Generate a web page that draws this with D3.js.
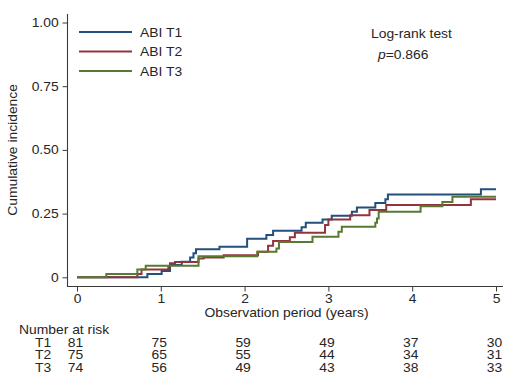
<!DOCTYPE html>
<html>
<head>
<meta charset="utf-8">
<script src="https://cdn.jsdelivr.net/npm/d3@7"></script>
<style>
  body { margin: 0; background: #fff; }
  text { font-family: "Liberation Sans", Arial, Helvetica, sans-serif; fill: #262626; }
</style>
</head>
<body>
<script>
// ---- data ----
const groups = ["T1", "T2", "T3"]
const legendLabels = ["ABI T1", "ABI T2", "ABI T3"]
const colors = ["#234f7d", "#93343c", "#567a30"]

const timesT1 = [0, 0.84, 1.01, 1.11, 1.25, 1.35, 1.39, 1.42, 1.70, 2.03, 2.26, 2.34, 2.68, 2.73, 2.93, 3.04, 3.28, 3.34, 3.56, 3.68, 3.71, 4.82, 5]
const cifT1 = [0, 0.013, 0.025, 0.048, 0.061, 0.078, 0.094, 0.110, 0.120, 0.151, 0.166, 0.183, 0.196, 0.214, 0.227, 0.242, 0.257, 0.274, 0.292, 0.306, 0.325, 0.346, 0.346]

const timesT2 = [0, 0.72, 0.77, 1.09, 1.11, 1.17, 1.45, 1.51, 1.75, 2.16, 2.28, 2.34, 2.54, 2.60, 2.96, 3.00, 3.26, 3.49, 3.69, 4.70, 5]
const cifT2 = [0, 0.013, 0.031, 0.042, 0.055, 0.060, 0.074, 0.078, 0.087, 0.100, 0.124, 0.142, 0.157, 0.175, 0.205, 0.227, 0.244, 0.264, 0.284, 0.306, 0.306]

const timesT3 = [0, 0.35, 0.72, 0.82, 1.45, 2.15, 2.38, 2.41, 2.81, 3.12, 3.16, 3.56, 3.58, 3.60, 4.10, 4.36, 4.48, 5]
const cifT3 = [0, 0.013, 0.031, 0.045, 0.083, 0.100, 0.113, 0.139, 0.159, 0.179, 0.198, 0.214, 0.231, 0.257, 0.279, 0.296, 0.316, 0.316]

const xTicks = [0, 1, 2, 3, 4, 5]
const yTicks = [0, 0.25, 0.5, 0.75, 1]
const yTickLabels = ["0", "0.25", "0.50", "0.75", "1.00"]
const riskT1 = [81, 75, 59, 49, 37, 30]
const riskT2 = [75, 65, 55, 44, 34, 31]
const riskT3 = [74, 56, 49, 43, 38, 33]

const series = [
    {times: timesT1, cif: cifT1},
    {times: timesT2, cif: cifT2},
    {times: timesT3, cif: cifT3}
]
const riskRows = [riskT1, riskT2, riskT3]

function setattrs(shape, dict) {
    for (let [prop, val] of Object.entries(dict)) {
        shape.attr(prop, val)
    }
}

// text is a bit wider than Liberation Sans in the original, so stretch it
const FS = 12.5, SX = 1.11
function label(parent, str, tx, ty, anchor = "start", rot = 0) {
    const t = parent.append("text").text(str)
    setattrs(t, {
        "transform": "translate(" + tx + "," + ty + ")" + (rot ? " rotate(" + rot + ")" : "") + " scale(" + SX + ",1)",
        "text-anchor": anchor,
        "font-size": FS
    })
    return t
}

const W = 505, H = 388
const svg = d3.select("body").append("svg")
setattrs(svg, {"width": W, "height": H})

const x = d3.scaleLinear().domain([0, 5]).range([77, 496])
const y = d3.scaleLinear().domain([0, 1]).range([277.3, 22.5])
const axisColor = "#3a3a3a"

// axis lines (region is wider than the data)
svg.append("line").call(s => setattrs(s, {
    "x1": 67.5, "x2": 67.5, "y1": 14, "y2": 286.5, "stroke": axisColor, "stroke-width": 1.1
}))
svg.append("line").call(s => setattrs(s, {
    "x1": 67, "x2": 503, "y1": 286.5, "y2": 286.5, "stroke": axisColor, "stroke-width": 1.1
}))

// y axis
const yAxis = svg.append("g")
    .attr("transform", "translate(67.5,0)")
    .call(d3.axisLeft(y).tickValues(yTicks).tickFormat((d, i) => yTickLabels[i]).tickSize(5).tickPadding(3))
yAxis.select(".domain").remove()
yAxis.selectAll("line").attr("stroke", axisColor)
yAxis.selectAll("text").attr("font-size", FS).attr("fill", "#262626")
    .attr("font-family", "Liberation Sans, Arial, sans-serif")
    .attr("transform", "scale(" + SX + ",1)")

// x axis
const xAxis = svg.append("g")
    .attr("transform", "translate(0,286.5)")
    .call(d3.axisBottom(x).tickValues(xTicks).tickFormat(d3.format("d")).tickSize(5).tickPadding(3))
xAxis.select(".domain").remove()
xAxis.selectAll("line").attr("stroke", axisColor)
xAxis.selectAll("text").attr("font-size", FS).attr("fill", "#262626")
    .attr("font-family", "Liberation Sans, Arial, sans-serif")
    .attr("transform", "scale(" + SX + ",1)")

// axis titles
label(svg, "Observation period (years)", (x(0) + x(5)) / 2, 317, "middle")
label(svg, "Cumulative incidence", 17, y(0.5), "middle", -90)

// step curves
const line = d3.line()
    .x(d => x(d[0]))
    .y(d => y(d[1]))
    .curve(d3.curveStepAfter)

series.forEach((s, i) => {
    const pts = s.times.map((t, j) => [t, s.cif[j]])
    svg.append("path").datum(pts).call(p => setattrs(p, {
        "d": line, "fill": "none", "stroke": colors[i], "stroke-width": 2
    }))
})

// legend
legendLabels.forEach((lab, i) => {
    const ly = 32 + i * 19.5
    svg.append("line").call(s => setattrs(s, {
        "x1": 79, "x2": 132, "y1": ly, "y2": ly, "stroke": colors[i], "stroke-width": 2
    }))
    label(svg, lab, 140, ly + 4.5)
})

// log-rank annotation
label(svg, "Log-rank test", 371, 38)
const pv = label(svg, "", 378, 59)
pv.append("tspan").text("p").attr("font-style", "italic")
pv.append("tspan").text("=0.866")

// number at risk table
label(svg, "Number at risk", 19, 333.5)
riskRows.forEach((row, i) => {
    const ry = 346.5 + i * 12.5
    label(svg, groups[i], 35, ry)
    row.forEach((n, j) => {
        label(svg, n, x(xTicks[j]) - 1.5, ry, "middle")
    })
})
</script>
</body>
</html>
